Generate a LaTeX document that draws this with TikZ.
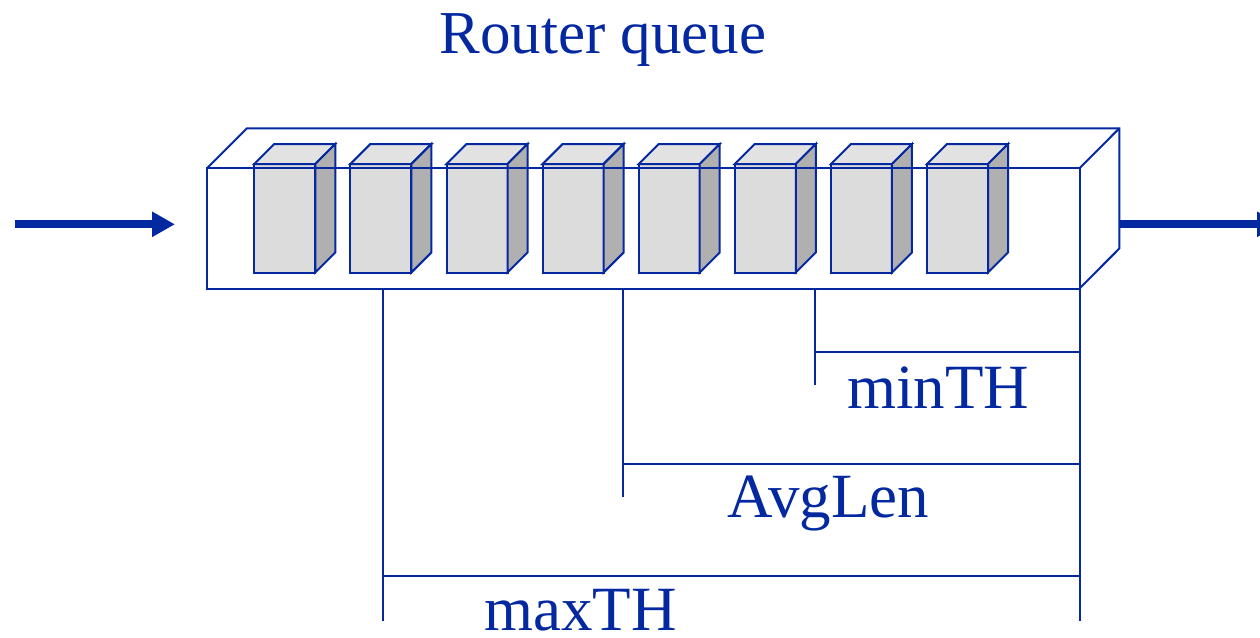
\documentclass[tikz,border=0pt]{standalone}
\usepackage{fontspec}
\setmainfont{Liberation Serif}
\usetikzlibrary{arrows.meta}
\definecolor{qblue}{RGB}{4,40,160}
\definecolor{pfront}{RGB}{220,220,220}
\definecolor{ptop}{RGB}{226,226,226}
\definecolor{pside}{RGB}{176,176,176}
\tikzset{
  edge/.style={draw=qblue,line width=2pt,line join=miter},
  dimline/.style={draw=qblue,line width=2pt},
  flow/.style={draw=qblue,line width=8pt,-{Triangle[length=23pt,width=24pt]}},
  lbl/.style={text=qblue,font=\fontsize{63}{70}\selectfont,anchor=base,inner sep=0pt},
}
\begin{document}
\begin{tikzpicture}[x=1pt,y=-1pt]
\useasboundingbox (0,0) rectangle (1260,637);
\clip (0,0) rectangle (1260,637);
% title
\node[lbl,font=\fontsize{61}{70}\selectfont] (title) at (603,53.5) {Router queue};
% queue box corners
\coordinate (fTL) at (207,168.3);
\coordinate (fTR) at (1079.5,168.3);
\coordinate (fBR) at (1079.5,288.5);
\coordinate (fBL) at (207,288.5);
\coordinate (bTL) at (247,128.3);
\coordinate (bTR) at (1119.3,128.3);
\coordinate (bBR) at (1119.3,248.5);
% back edges
\draw[edge] (fTL) -- (bTL) -- (bTR) -- (bBR) -- (fBR);
\draw[edge] (fTR) -- (bTR);
% packets
\foreach \i in {0,...,7}{
  \pgfmathsetmacro{\xa}{254.3+96.1*\i}
  \begin{scope}[shift={(\xa,0)}]
    \filldraw[edge,fill=pfront] (0,164) rectangle (61,272.5);
    \filldraw[edge,fill=ptop] (0,164) -- (20,144) -- (81,144) -- (61,164) -- cycle;
    \filldraw[edge,fill=pside] (61,164) -- (81,144) -- (81,252.5) -- (61,272.5) -- cycle;
    \coordinate (p\i) at (30.5,218);
  \end{scope}
}
% front face over packets
\draw[edge] (fTL) rectangle (fBR);
% flow arrows
\coordinate (inS) at (15,224.3);
\coordinate (inE) at (175,224.3);
\draw[flow] (inS) -- (inE);
\coordinate (outS) at (1119.3,224.3);
\coordinate (outE) at (1280,224.3);
\draw[flow] (outS) -- (outE);
% dimension lines
\coordinate (rEnd) at (1079.5,621);
\draw[dimline] (fBR) -- (rEnd);
\coordinate (minTop) at (815,288.5);
\coordinate (minBot) at (815,385);
\coordinate (minH) at (815,352.3);
\coordinate (minHR) at (1079.5,352.3);
\draw[dimline] (minTop) -- (minBot);
\draw[dimline] (minH) -- (minHR);
\coordinate (avgTop) at (623.3,288.5);
\coordinate (avgBot) at (623.3,496.7);
\coordinate (avgH) at (623.3,464.3);
\coordinate (avgHR) at (1079.5,464.3);
\draw[dimline] (avgTop) -- (avgBot);
\draw[dimline] (avgH) -- (avgHR);
\coordinate (maxTop) at (383,288.5);
\coordinate (maxBot) at (383,621);
\coordinate (maxH) at (383,576);
\coordinate (maxHR) at (1079.5,576);
\draw[dimline] (maxTop) -- (maxBot);
\draw[dimline] (maxH) -- (maxHR);
% labels
\node[lbl] (minTH) at (938,408) {minTH};
\node[lbl] (avg) at (828.5,517.3) {AvgLen};
\node[lbl] (maxTH) at (580.5,630.7) {maxTH};
\end{tikzpicture}
\end{document}
